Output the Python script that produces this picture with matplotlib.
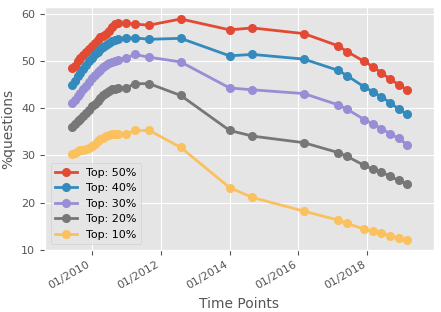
import pandas as pd
import matplotlib
matplotlib.use('Agg')
import matplotlib.pyplot as plt
import matplotlib.dates as mdates

plt.style.use('ggplot')

# monthly points Jun 2009 - Oct 2010, then sparser snapshots
dense_dates = list(pd.date_range('2009-06-01', '2010-10-01', freq='MS'))
sparse_dates = pd.to_datetime(['2011-01-01', '2011-04-01', '2011-09-01', '2012-08-01',
                               '2014-01-01', '2014-09-01', '2016-03-01', '2017-03-01',
                               '2017-06-01', '2017-12-01', '2018-03-01', '2018-06-01',
                               '2018-09-01', '2018-12-01', '2019-03-01'])
dates = dense_dates + list(sparse_dates)

top50 = [48.5, 49.0, 49.9, 50.6, 51.3, 52.0, 52.6, 53.2, 53.8, 54.4, 55.0, 55.4, 55.8, 56.4, 57.1, 57.8, 58.0,
         58.0, 57.8, 57.6, 58.9, 56.6, 57.0, 55.8, 53.2, 52.0, 49.9, 48.8, 47.5, 46.2, 45.0, 43.9]
top40 = [45.0, 45.8, 46.8, 47.4, 48.3, 49.2, 49.9, 50.6, 51.4, 52.0, 52.5, 53.0, 53.4, 53.9, 54.3, 54.5, 54.7,
         54.9, 54.9, 54.6, 54.8, 51.1, 51.4, 50.4, 48.0, 46.9, 44.5, 43.5, 42.4, 41.2, 39.8, 38.7]
top30 = [41.1, 41.8, 42.6, 43.2, 44.0, 44.8, 45.6, 46.3, 47.0, 47.6, 48.2, 48.7, 49.1, 49.5, 49.8, 50.1, 50.3,
         50.7, 51.4, 50.8, 49.8, 44.3, 43.9, 43.1, 40.7, 39.8, 37.6, 36.7, 35.7, 34.6, 33.6, 32.3]
top20 = [36.0, 36.6, 37.3, 37.8, 38.3, 38.9, 39.6, 40.4, 41.0, 41.6, 42.2, 42.7, 43.3, 43.7, 44.0, 44.1, 44.2,
         44.3, 45.2, 45.2, 42.7, 35.3, 34.1, 32.7, 30.6, 29.8, 27.9, 27.1, 26.5, 25.6, 24.7, 23.9]
top10 = [30.4, 30.6, 30.9, 31.1, 31.1, 31.3, 31.6, 32.0, 32.5, 33.0, 33.4, 33.8, 34.1, 34.3, 34.5, 34.5, 34.6,
         34.6, 35.3, 35.3, 31.7, 23.2, 21.1, 18.2, 16.3, 15.6, 14.4, 13.9, 13.5, 13.0, 12.5, 12.0]

series = [('Top: 50%', top50), ('Top: 40%', top40), ('Top: 30%', top30),
          ('Top: 20%', top20), ('Top: 10%', top10)]

fig, ax = plt.subplots(figsize=(4.41, 3.12), dpi=100)
for label, vals in series:
    ax.plot(dates, vals, marker='o', linestyle='-', markersize=5.5, linewidth=2, label=label)

ax.xaxis.set_major_locator(mdates.YearLocator(2))
ax.xaxis.set_major_formatter(mdates.DateFormatter('%m/%Y'))
ax.margins(x=0.08)
ax.set_ylim(10, 61.4)
ax.set_xlabel('Time Points', fontsize=10)
ax.set_ylabel('%questions', fontsize=10)
ax.legend(loc='lower left', fontsize=8)
fig.autofmt_xdate()
ax.tick_params(labelsize=8)
fig.subplots_adjust(left=0.102, right=0.984, top=0.977, bottom=0.199)
fig.savefig('out.png')
